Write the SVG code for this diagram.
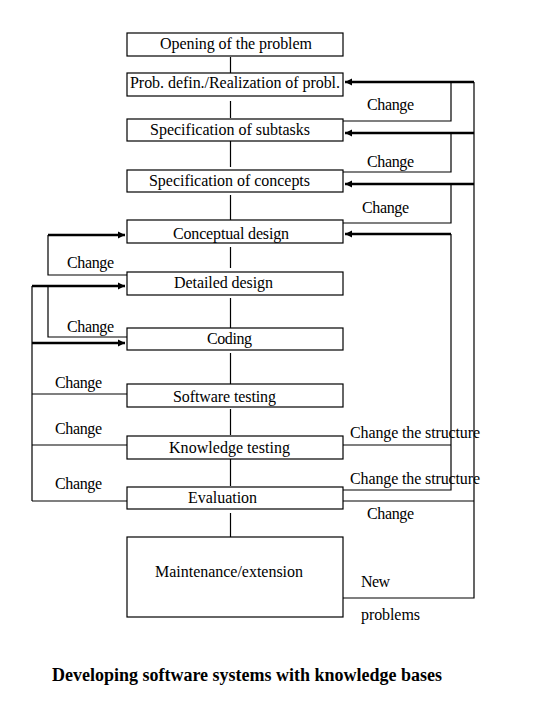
<svg xmlns="http://www.w3.org/2000/svg" width="540" height="720" viewBox="0 0 540 720">
<style>
.box{fill:#fff;stroke:#000;stroke-width:1.2}
.t{font-family:"Liberation Serif","Times New Roman",serif;font-size:16px;fill:#000}
.title{font-family:"Liberation Serif","Times New Roman",serif;font-size:18px;font-weight:bold;fill:#000}
.thin{fill:none;stroke:#000;stroke-width:1.2}
.thick{fill:none;stroke:#000;stroke-width:2.6}
</style>
<defs>
<marker id="ah" markerUnits="userSpaceOnUse" markerWidth="8" markerHeight="8" refX="7" refY="4" orient="auto">
<path d="M0,0.5 L7,4 L0,7.5 z" fill="#000"/>
</marker>
</defs>
<rect width="540" height="720" fill="#fff"/>
<g id="connectors">
<!-- center vertical links -->
<path class="thin" d="M230.5,57V73 M230.5,101V118 M230.5,141V167 M230.5,195V220 M230.5,247V268 M230.5,298V328 M230.5,353V384 M230.5,409V435 M230.5,459V486 M230.5,513V537"/>
<!-- right side thin feedback -->
<path class="thin" d="M343,121H451V82 M343,172H451V133 M343,223H451V184"/>
<path class="thin" d="M343,445H451 M343,490H451V234"/>
<path class="thin" d="M343,501H474 M343,598H474V82"/>
<!-- right thick arrows -->
<path class="thick" d="M474,82H345" marker-end="url(#ah)"/>
<path class="thick" d="M474,133H345" marker-end="url(#ah)"/>
<path class="thick" d="M474,184H345" marker-end="url(#ah)"/>
<path class="thick" d="M451,234H345" marker-end="url(#ah)"/>
<!-- left side -->
<path class="thin" d="M127,275H48V235 M127,337H48V286"/>
<path class="thin" d="M32,286V501 M32,394H127 M32,445H127 M32,501H127"/>
<path class="thick" d="M48,235H125" marker-end="url(#ah)"/>
<path class="thick" d="M32,286H125" marker-end="url(#ah)"/>
<path class="thick" d="M32,343H125" marker-end="url(#ah)"/>
</g>
<g id="n1"><rect class="box" x="127" y="33" width="216" height="23"/><text class="t" x="160" y="49" textLength="152">Opening of the problem</text></g>
<g id="n2"><rect class="box" x="127" y="73" width="216" height="23"/><text class="t" x="130" y="88" textLength="210">Prob. defin./Realization of probl.</text></g>
<g id="n3"><rect class="box" x="127" y="119" width="216" height="22"/><text class="t" x="150" y="135" textLength="160">Specification of subtasks</text></g>
<g id="n4"><rect class="box" x="127" y="170" width="216" height="22"/><text class="t" x="149" y="186" textLength="161">Specification of concepts</text></g>
<g id="n5"><rect class="box" x="127" y="220" width="216" height="23"/><text class="t" x="173" y="239" textLength="116">Conceptual design</text></g>
<g id="n6"><rect class="box" x="127" y="272" width="216" height="23"/><text class="t" x="174" y="288" textLength="99">Detailed design</text></g>
<g id="n7"><rect class="box" x="127" y="328" width="216" height="22"/><text class="t" x="207" y="344" textLength="45">Coding</text></g>
<g id="n8"><rect class="box" x="127" y="384" width="216" height="23"/><text class="t" x="173" y="402" textLength="103">Software testing</text></g>
<g id="n9"><rect class="box" x="127" y="436" width="216" height="23"/><text class="t" x="169" y="453" textLength="121">Knowledge testing</text></g>
<g id="n10"><rect class="box" x="127" y="487" width="216" height="22"/><text class="t" x="188" y="503" textLength="69">Evaluation</text></g>
<g id="n11"><rect class="box" x="127" y="537" width="216" height="80"/><text class="t" x="155" y="577" textLength="148">Maintenance/extension</text></g>
<g id="labels">
<text class="t" x="367" y="110" textLength="47">Change</text>
<text class="t" x="367" y="167" textLength="47">Change</text>
<text class="t" x="362" y="213" textLength="47">Change</text>
<text class="t" x="350" y="438" textLength="130">Change the structure</text>
<text class="t" x="350" y="484" textLength="130">Change the structure</text>
<text class="t" x="367" y="519" textLength="47">Change</text>
<text class="t" x="361" y="587" textLength="29">New</text>
<text class="t" x="361" y="620" textLength="59">problems</text>
<text class="t" x="67" y="268" textLength="47">Change</text>
<text class="t" x="67" y="332" textLength="47">Change</text>
<text class="t" x="55" y="388" textLength="47">Change</text>
<text class="t" x="55" y="434" textLength="47">Change</text>
<text class="t" x="55" y="489" textLength="47">Change</text>
</g>
<text class="title" x="52" y="681" textLength="390">Developing software systems with knowledge bases</text>
</svg>
